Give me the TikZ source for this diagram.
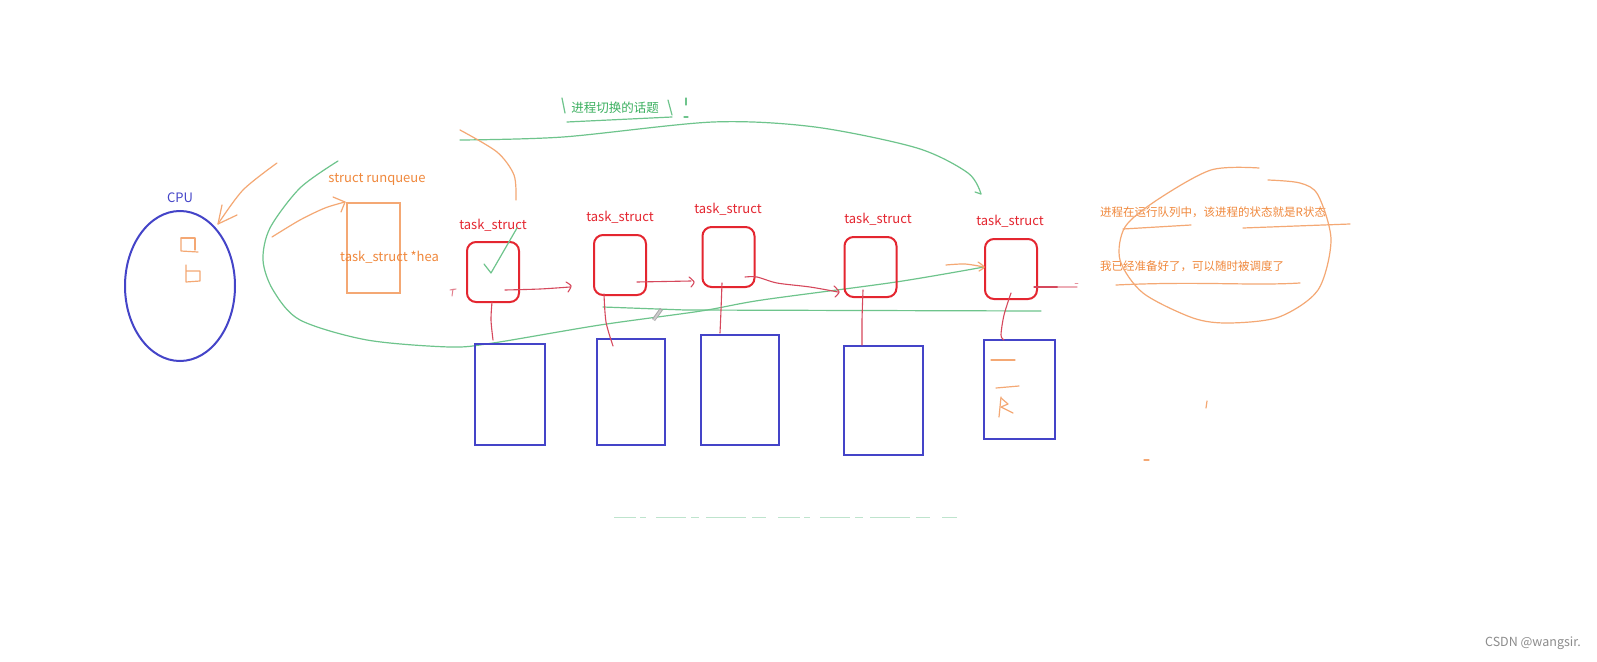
\documentclass[tikz,border=0pt]{standalone}
\usepackage{fontspec}
\setmainfont{Noto Sans CJK SC}
\usetikzlibrary{shapes.geometric}
\definecolor{cpublue}{RGB}{68,68,200}
\definecolor{boxred}{RGB}{228,38,48}
\definecolor{linered}{RGB}{214,72,92}
\definecolor{txtorange}{RGB}{240,136,60}
\definecolor{strokeorange}{RGB}{244,168,116}
\definecolor{txtgreen}{RGB}{60,176,96}
\definecolor{strokegreen}{RGB}{110,196,140}
\definecolor{fadegreen}{RGB}{190,228,205}
\definecolor{wmgrey}{RGB}{140,140,140}
\begin{document}
\begin{tikzpicture}[x=1pt,y=-1pt,
  taskbox/.style={draw=boxred, line width=2pt, rounded corners=9pt, minimum width=52pt, minimum height=60pt, inner sep=0pt},
  membox/.style={draw=cpublue, line width=2.2pt, inner sep=0pt},
  tlabel/.style={text=boxred, font=\fontsize{13}{15}\selectfont, inner sep=0pt},
  redline/.style={draw=linered, line width=1.1pt, line cap=round},
  ostroke/.style={draw=strokeorange, line width=1.2pt, line cap=round, line join=round},
  gstroke/.style={draw=strokegreen, line width=1.2pt, line cap=round, line join=round},
  otext/.style={text=txtorange, inner sep=0pt},
]
\useasboundingbox (0,0) rectangle (1597,661);
\fill[white] (0,0) rectangle (1597,661);

% CPU
\node[ellipse, draw=cpublue, line width=2pt, minimum width=110pt, minimum height=150pt] (cpu) at (180,286) {};
\node[text=cpublue, font=\fontsize{13}{15}\selectfont, inner sep=0pt] (cpulbl) at (180,198) {CPU};
\draw[ostroke] (181,238) -- (195,238) -- (195,250);
\draw[ostroke] (181,238) -- (181,251) -- (198,252);
\draw[ostroke] (186,265) -- (186,282) -- (200,281) -- (200,271) -- (186,271);

% orange arrow into CPU
\coordinate (oa1s) at (277,163);
\coordinate (oa1e) at (218,224);
\draw[ostroke] plot[smooth] coordinates {(oa1s) (243,190) (oa1e)};
\draw[ostroke] (237,215) -- (oa1e) -- (222,205);

% runqueue
\node[otext, font=\fontsize{13}{15}\selectfont] (rqlbl) at (377,179) {struct runqueue};
\node[draw=strokeorange, line width=1.2pt, minimum width=53pt, minimum height=90pt, inner sep=0pt] (rq) at (373.5,248) {};
\begin{scope}
  \clip (330,240) rectangle (437,275);
  \node[otext, font=\fontsize{13}{15}\selectfont, anchor=west] (rqhead) at (340,257) {task\_struct *head};
\end{scope}
\coordinate (oa2s) at (272,237);
\coordinate (oa2e) at (345,202);
\draw[ostroke] plot[smooth] coordinates {(oa2s) (300,220) (325,208) (oa2e)};
\draw[ostroke] (333,197) -- (oa2e) -- (341,212);

% green loop (process switching)
\draw[gstroke] plot[smooth] coordinates {(338,161) (300,188) (270,228) (263,260) (273,290) (300,320) (367,340) (450,347) (493,343) (600,325) (701,311) (762,300) (896,282) (984,267)};
\draw[gstroke] plot[smooth] coordinates {(460,140) (563,137) (713,122) (815,127) (917,148) (968,173) (981,194)};
\draw[gstroke] (981,194) -- (975,192);
\draw[gstroke] (603,307) -- (685,310) -- (1041,311);

% green title
\node[text=txtgreen, font=\fontsize{12.5}{14}\selectfont, inner sep=0pt] (topic) at (615,108) {进程切换的话题};
\draw[gstroke] (562,98) -- (565,113);
\draw[gstroke] (567,122) -- (672,117);
\draw[gstroke] (668,100) -- (672,115);
\draw[gstroke] (686,98) -- (686,105);
\draw[gstroke] (684,117) -- (688,117);

% orange curve near first task
\draw[ostroke] plot[smooth] coordinates {(460,130) (497,152) (514,175) (516,200)};

% task_struct boxes
\node[taskbox] (t1) at (493,272) {};
\node[taskbox] (t2) at (620,265) {};
\node[taskbox] (t3) at (728.5,257) {};
\node[taskbox] (t4) at (870.5,267) {};
\node[taskbox] (t5) at (1011,269) {};
\node[tlabel] (l1) at (493,225) {task\_struct};
\node[tlabel] (l2) at (620,217) {task\_struct};
\node[tlabel] (l3) at (728,209) {task\_struct};
\node[tlabel] (l4) at (878,219) {task\_struct};
\node[tlabel] (l5) at (1010,221) {task\_struct};

% check mark
\draw[gstroke] (484,264) -- (491,273) -- (517,228);

% small mark left of t1
\draw[redline, draw=linered!70, line width=1pt] (450,290) -- (456,289) (453,289) -- (452,296);

% code/data boxes
\node[membox, minimum width=70pt, minimum height=101pt] (b1) at (510,394.5) {};
\node[membox, minimum width=68pt, minimum height=106pt] (b2) at (631,392) {};
\node[membox, minimum width=78pt, minimum height=110pt] (b3) at (740,390) {};
\node[membox, minimum width=79pt, minimum height=109pt] (b4) at (883.5,400.5) {};
\node[membox, minimum width=71pt, minimum height=99pt] (b5) at (1019.5,389.5) {};

% red links task -> box
\draw[redline] plot[smooth] coordinates {(492,302) (491,320) (493,340)};
\draw[redline] plot[smooth] coordinates {(604,294) (606,322) (613,346)};
\draw[redline] plot[smooth] coordinates {(722,283) (721,310) (720,333)};
\draw[redline] plot[smooth] coordinates {(863,290) (862,320) (862,345)};
\draw[redline] plot[smooth] coordinates {(1011,293) (1004,315) (1001,335) (1004,340)};

% red next pointers
\coordinate (n1s) at (505,290);
\coordinate (n1e) at (570,287);
\draw[redline] plot[smooth] coordinates {(n1s) (540,289) (n1e)};
\draw[redline] plot[smooth] coordinates {(566,282) (571,286) (568,292)};
\coordinate (n2s) at (637,282);
\coordinate (n2e) at (691,281);
\draw[redline] (n2s) -- (n2e);
\draw[redline] plot[smooth] coordinates {(689,277) (694,282) (691,287)};
\coordinate (n3s) at (745,277);
\coordinate (n3e) at (838,292);
\draw[redline] plot[smooth] coordinates {(n3s) (757,277) (777,283) (810,287) (n3e)};
\draw[redline] plot[smooth] coordinates {(834,286) (839,292) (835,297)};
\coordinate (n5s) at (1034,287);
\coordinate (n5e) at (1077,287);
\draw[redline] (n5s) -- (1058,287);
\draw[redline, draw=linered!45] (1058,287) -- (n5e);
\draw[redline, draw=linered!60, line width=0.9pt] (1075,283) -- (1078,283);

% orange arrow into t5
\coordinate (o5s) at (946,265);
\coordinate (o5e) at (984,267);
\draw[ostroke] plot[smooth] coordinates {(o5s) (965,264) (o5e)};
\draw[ostroke] plot[smooth] coordinates {(978,262) (984,267) (979,271)};

% marks inside b5
\draw[ostroke] (991,360) -- (1015,360);
\draw[ostroke] (996,388) -- (1019,386);
\draw[ostroke] (1001,397) -- (999,417);
\draw[ostroke] (1001,398) -- (1008,404) -- (1001,407) -- (1013,413);

% pencil cursor
\fill[gray!70] (652,319) -- (655,321) -- (663,310) -- (660,308) -- cycle;
\fill[gray!40] (653,319.5) -- (654.5,320.5) -- (661.5,310.5) -- (660,309.5) -- cycle;

% right side notes
\node[otext, font=\fontsize{11.5}{13}\selectfont, anchor=west] (note1) at (1100,212) {进程在运行队列中，该进程的状态就是R状态};
\node[otext, font=\fontsize{11.5}{13}\selectfont, anchor=west] (note2) at (1100,266) {我已经准备好了，可以随时被调度了};
\draw[ostroke] (1123,229) -- (1191,225);
\draw[ostroke] (1243,228) -- (1350,224);
\draw[ostroke] (1116,285) .. controls (1200,281) and (1250,286) .. (1300,283);
\draw[ostroke] plot[smooth] coordinates {(1259,168) (1211,170) (1157,200) (1125,227) (1120,260) (1143,293) (1193,318) (1229,323) (1279,317) (1318,290) (1331,240) (1318,195) (1300,183) (1268,180)};
\draw[ostroke] (1207,401) -- (1206,408);
\draw[ostroke] (1144,460) -- (1149,460);

% faint bottom text trace
\draw[fadegreen, line width=1pt, dash pattern=on 22pt off 4pt on 6pt off 10pt on 30pt off 5pt on 8pt off 7pt on 40pt off 6pt on 14pt off 12pt] (614,517) -- (957,517);

% watermark
\node[text=wmgrey, font=\fontsize{12.5}{14}\selectfont, inner sep=0pt] (wm) at (1533,643) {CSDN @wangsir.};
\end{tikzpicture}
\end{document}
